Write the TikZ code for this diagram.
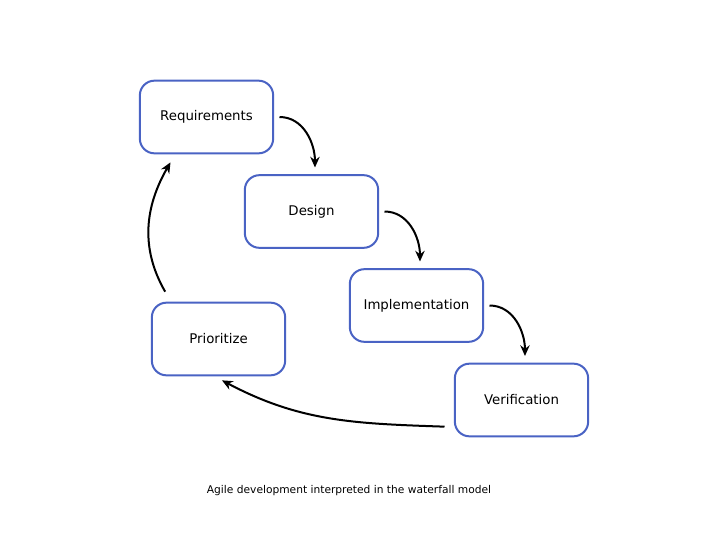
\documentclass[tikz,border=0pt]{standalone}
\usepackage{fontspec}
\setmainfont{DejaVu Sans}
\usepackage{tikz}
\usetikzlibrary{arrows.meta, positioning}
\definecolor{boxblue}{RGB}{74,99,196}

\begin{document}
\begin{tikzpicture}[x=0.75pt, y=-0.75pt,
    stage/.style={draw=boxblue, line width=1.5pt, rounded corners=11pt,
      minimum width=100pt, minimum height=54.5pt, fill=white,
      font=\fontsize{10}{12}\selectfont},
    flow/.style={-{Stealth[length=8pt, width=7pt]}, line width=1.5pt}]
  % canvas
  \useasboundingbox (0,0) rectangle (727,545);
  % stages
  \node[stage] (req)  at (206.5,117)   {Requirements};
  \node[stage] (des)  at (311.5,211.5) {Design};
  \node[stage] (impl) at (416.5,305.5) {Implementation};
  \node[stage] (ver)  at (521.5,400)   {Verification};
  \node[stage] (prio) at (218.5,339)   {Prioritize};
  % caption
  \node[font=\fontsize{8}{10}\selectfont] (cap) at (349,491)
    {Agile development interpreted in the waterfall model};
  % waterfall arrows
  \draw[flow] ([xshift=4pt]req.east)  to[out=0, in=90] ([xshift=2.6pt, yshift=5pt]des.north);
  \draw[flow] ([xshift=4pt]des.east)  to[out=0, in=90] ([xshift=2.6pt, yshift=5pt]impl.north);
  \draw[flow] ([xshift=4pt]impl.east) to[out=0, in=90] ([xshift=2.6pt, yshift=5pt]ver.north);
  % feedback arrows
  \draw[flow] ([xshift=-7pt, yshift=-20pt]ver.west) to[out=178, in=-28]
    ([xshift=2.6pt, yshift=-3pt]prio.south);
  \draw[flow] ([xshift=-40pt, yshift=7.5pt]prio.north) to[out=120, in=240]
    ([xshift=-27pt, yshift=-6pt]req.south);
\end{tikzpicture}
\end{document}
